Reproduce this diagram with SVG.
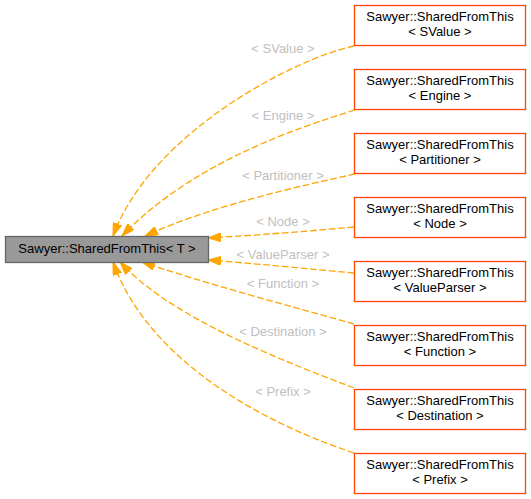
<svg xmlns="http://www.w3.org/2000/svg" width="531" height="499" viewBox="0 0 531 499">
<style>
text{font-family:"Liberation Sans",Arial,sans-serif;font-size:13px;text-anchor:middle}
.n rect{fill:#ffffff;stroke:#ff4500;stroke-width:1.3}
.n text{fill:#000000}
#main rect{fill:#999999;stroke:#666666;stroke-width:1.3}
.e{fill:none;stroke:#ffa500;stroke-width:1.3;stroke-dasharray:6.7,2.7;marker-end:url(#arr)}
.l{fill:#c0c0c0}
</style>
<defs>
<marker id="arr" viewBox="0 0 13 9" refX="13" refY="4.5" markerWidth="13" markerHeight="9" markerUnits="userSpaceOnUse" orient="auto">
<path d="M0,0 L13,4.5 L0,9 z" fill="#ffa500" stroke="#ffa500" stroke-width="1"/>
</marker>
</defs>
<rect width="531" height="499" fill="#ffffff"/>
<g id="edges">
<path class="e" d="M354,46 C290,60 150,135 113,236"/>
<path class="e" d="M355,110 C290,130 190,165 122,236"/>
<path class="e" d="M355,174 C300,186 210,206 145,236"/>
<path class="e" d="M354,227 C310,231 260,235 208,238"/>
<path class="e" d="M354,273 C310,269 260,264 208,260"/>
<path class="e" d="M354,324 C290,306 210,285 142,262"/>
<path class="e" d="M354,388 C270,356 170,316 120,262"/>
<path class="e" d="M354,453 C270,425 150,365 113,262"/>
<text class="l" x="283" y="52.5">&lt; SValue &gt;</text>
<text class="l" x="283" y="119.5">&lt; Engine &gt;</text>
<text class="l" x="283" y="180">&lt; Partitioner &gt;</text>
<text class="l" x="283" y="225.5">&lt; Node &gt;</text>
<text class="l" x="283" y="259">&lt; ValueParser &gt;</text>
<text class="l" x="283" y="287.5">&lt; Function &gt;</text>
<text class="l" x="283" y="336">&lt; Destination &gt;</text>
<text class="l" x="283" y="395.5">&lt; Prefix &gt;</text>
</g>
<g id="main">
<rect x="5.5" y="236.5" width="203" height="26"/>
<text x="107" y="253">Sawyer::SharedFromThis&lt; T &gt;</text>
</g>
<g id="n1" class="n"><rect x="354.5" y="5.5" width="171" height="40"/><text x="440" y="21">Sawyer::SharedFromThis</text><text x="440" y="36">&lt; SValue &gt;</text></g>
<g id="n2" class="n"><rect x="354.5" y="69.5" width="171" height="40"/><text x="440" y="85">Sawyer::SharedFromThis</text><text x="440" y="100">&lt; Engine &gt;</text></g>
<g id="n3" class="n"><rect x="354.5" y="133.5" width="171" height="40"/><text x="440" y="149">Sawyer::SharedFromThis</text><text x="440" y="164">&lt; Partitioner &gt;</text></g>
<g id="n4" class="n"><rect x="354.5" y="197.5" width="171" height="40"/><text x="440" y="213">Sawyer::SharedFromThis</text><text x="440" y="228">&lt; Node &gt;</text></g>
<g id="n5" class="n"><rect x="354.5" y="261.5" width="171" height="40"/><text x="440" y="277">Sawyer::SharedFromThis</text><text x="440" y="292">&lt; ValueParser &gt;</text></g>
<g id="n6" class="n"><rect x="354.5" y="325.5" width="171" height="40"/><text x="440" y="341">Sawyer::SharedFromThis</text><text x="440" y="356">&lt; Function &gt;</text></g>
<g id="n7" class="n"><rect x="354.5" y="389.5" width="171" height="40"/><text x="440" y="405">Sawyer::SharedFromThis</text><text x="440" y="420">&lt; Destination &gt;</text></g>
<g id="n8" class="n"><rect x="354.5" y="453.5" width="171" height="40"/><text x="440" y="469">Sawyer::SharedFromThis</text><text x="440" y="484">&lt; Prefix &gt;</text></g>
</svg>
